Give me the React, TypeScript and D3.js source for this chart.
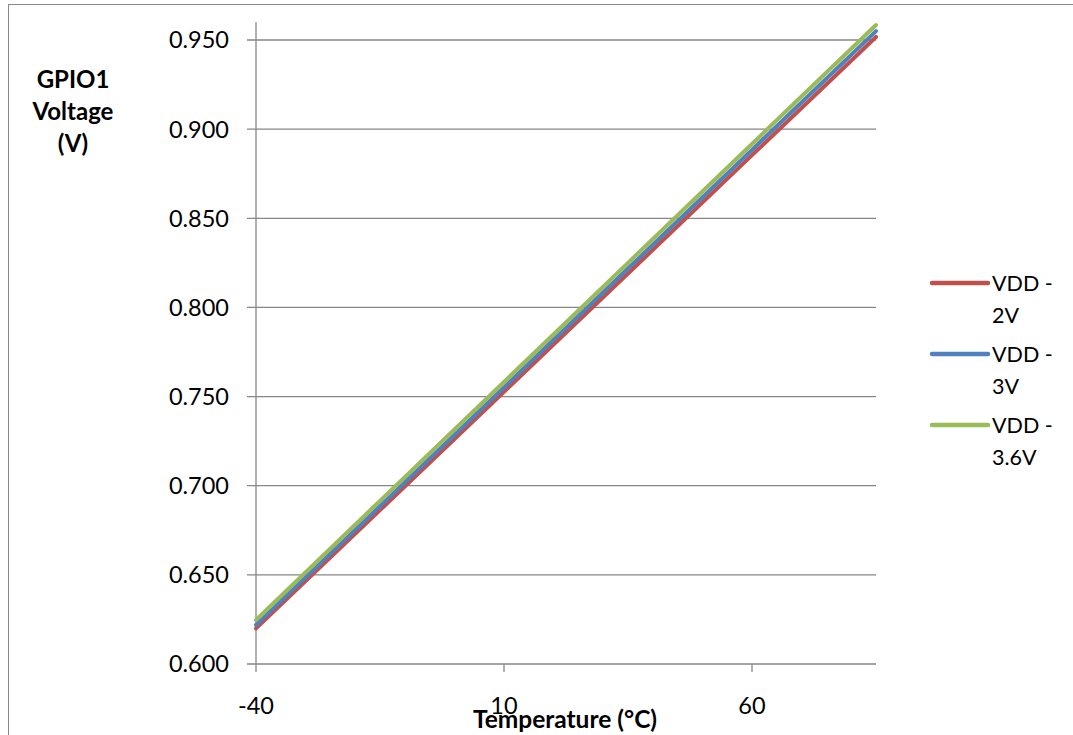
import React, { useEffect } from "react";
import * as d3 from "d3";

const temps = [-40, -15, 10, 35, 60, 85];
const vdd2 = [0.620, 0.6863, 0.7527, 0.819, 0.8854, 0.9517];
const vdd3 = [0.6219, 0.6885, 0.7551, 0.8218, 0.8884, 0.955];
const vdd36 = [0.6247, 0.6915, 0.7582, 0.825, 0.8917, 0.9584];
const seriesNames = ["VDD - 2V", "VDD - 3V", "VDD - 3.6V"];
const seriesColors = ["#C0504D", "#4F81BD", "#9BBB59"];
const yTicks = [0.6, 0.65, 0.7, 0.75, 0.8, 0.85, 0.9, 0.95];
const xTicks = [-40, 10, 60];

const W = 1073;
const H = 735;
const FONT = "Lato, 'Open Sans', sans-serif";

export default function App() {
  useEffect(() => {
    document.body.style.margin = "0";
  }, []);

  const x = d3.scaleLinear().domain([-40, 85]).range([256, 876]);
  const y = d3.scaleLinear().domain([0.6, 0.95]).range([664, 40]);
  const yTop = y(0.96);
  const series = [vdd2, vdd3, vdd36];
  const line = d3
    .line<number>()
    .x((_, i) => x(temps[i]))
    .y((d) => y(d));

  const gridColor = "#868686";

  return (
    <svg width={W} height={H} style={{ display: "block", background: "#fff" }}>
      {/* chart frame */}
      <line x1={8} y1={4.5} x2={W} y2={4.5} stroke="#8a8a8a" strokeWidth={1} />
      <line x1={8.5} y1={4} x2={8.5} y2={H} stroke="#8a8a8a" strokeWidth={1} />

      {/* gridlines */}
      {yTicks.map((t) => (
        <line key={"g" + t} x1={x(-40) - 9} x2={x(85)} y1={y(t)} y2={y(t)} stroke={gridColor} strokeWidth={1.3} />
      ))}
      {/* y axis */}
      <line x1={x(-40)} x2={x(-40)} y1={yTop} y2={y(0.6)} stroke={gridColor} strokeWidth={1.3} />
      {/* x axis ticks */}
      {xTicks.map((t) => (
        <line key={"xt" + t} x1={x(t)} x2={x(t)} y1={y(0.6)} y2={y(0.6) + 8} stroke={gridColor} strokeWidth={1.3} />
      ))}
      {/* y tick labels */}
      {yTicks.map((t) => (
        <text key={"yl" + t} x={229} y={y(t)} dy="0.36em" textAnchor="end" fontFamily={FONT} fontSize={23.5} fill="#000">
          {d3.format(".3f")(t)}
        </text>
      ))}
      {/* x tick labels */}
      {xTicks.map((t) => (
        <text key={"xl" + t} x={x(t)} y={714} textAnchor="middle" fontFamily={FONT} fontSize={23.5} fill="#000">
          {t}
        </text>
      ))}

      {/* series */}
      {series.map((s, i) => (
        <path key={"s" + i} d={line(s) || ""} fill="none" stroke={seriesColors[i]} strokeWidth={4} strokeLinecap="round" strokeLinejoin="round" />
      ))}

      {/* axis titles */}
      <text x={565} y={728} textAnchor="middle" fontFamily={FONT} fontSize={24.5} fontWeight="bold" fill="#000">
        Temperature (°C)
      </text>
      <text textAnchor="middle" fontFamily={FONT} fontSize={24} fontWeight="bold" fill="#000">
        <tspan x={73} y={88}>GPIO1</tspan>
        <tspan x={73} y={120}>Voltage</tspan>
        <tspan x={73} y={152}>(V)</tspan>
      </text>

      {/* legend */}
      {seriesNames.map((n, i) => {
        const ly = 283 + i * 71;
        const parts = n.split(" - ");
        return (
          <g key={"lg" + i}>
            <line x1={932} x2={988} y1={ly} y2={ly} stroke={seriesColors[i]} strokeWidth={4.5} strokeLinecap="round" />
            <text fontFamily={FONT} fontSize={21.5} fill="#000">
              <tspan x={992} y={ly + 8}>{parts[0] + " -"}</tspan>
              <tspan x={992} y={ly + 40}>{parts[1]}</tspan>
            </text>
          </g>
        );
      })}
    </svg>
  );
}
